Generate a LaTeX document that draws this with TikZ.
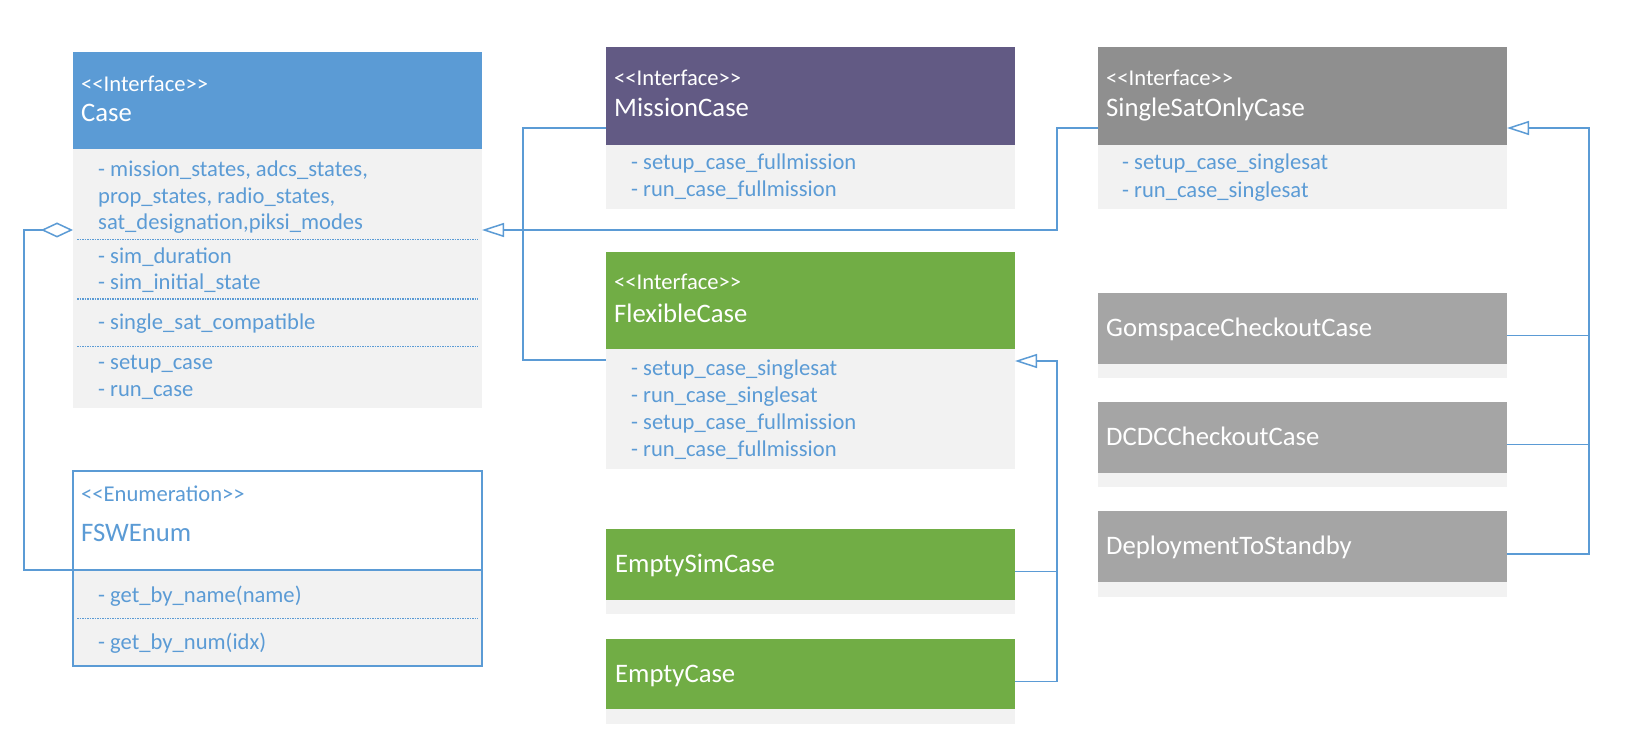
\documentclass[tikz,border=0pt]{standalone}
\usepackage{fontspec}
\setmainfont{Carlito}[Ligatures=TeXOff]
\usetikzlibrary{arrows.meta}
\definecolor{ublue}{HTML}{5B9BD5}
\definecolor{upurple}{HTML}{625A84}
\definecolor{ugreen}{HTML}{71AD45}
\definecolor{ugrayd}{HTML}{8F8F8F}
\definecolor{ugrayl}{HTML}{A5A5A5}
\definecolor{ubody}{HTML}{F2F2F2}
\tikzset{
  hd/.style={rectangle, inner sep=0pt, outer sep=0pt, anchor=north west, draw=none},
  ttl/.style={anchor=base west, inner sep=0pt, text=white, font=\fontsize{26.7}{32}\selectfont},
  ster/.style={anchor=base west, inner sep=0pt, text=white, font=\fontsize{22.6}{27}\selectfont},
  att/.style={anchor=base west, inner sep=0pt, text=ublue, font=\fontsize{22.6}{27}\selectfont},
  conn/.style={draw=ublue, line width=1.5pt},
  gen/.style={conn, -{Triangle[open, length=22pt, width=14pt]}},
  agg/.style={conn, -{Diamond[open, length=32pt, width=15pt]}},
  sepline/.style={draw=ublue, line width=1pt, dash pattern=on 1.5pt off 1pt},
}
\begin{document}
\begin{tikzpicture}[x=1pt,y=-1pt]
\useasboundingbox[fill=white] (0,0) rectangle (1634,746);

% ---------- Case ----------
\node[hd, fill=ublue, minimum width=409pt, minimum height=97pt] (caseH) at (73,52) {};
\node[hd, fill=ubody, minimum width=409pt, minimum height=259pt] (caseB) at (73,149) {};
\node[ster] (caseS) at (81,92) {<<Interface>>};
\node[ttl] (caseT) at (81,122) {Case};
\node[att] (caseA1) at (98,177) {- mission\_states, adcs\_states,};
\node[att] (caseA2) at (98,204) {prop\_states, radio\_states,};
\node[att] (caseA3) at (98,230) {sat\_designation,piksi\_modes};
\node[att] (caseA4) at (98,264) {- sim\_duration};
\node[att] (caseA5) at (98,290) {- sim\_initial\_state};
\node[att] (caseA6) at (98,329) {- single\_sat\_compatible};
\node[att] (caseA7) at (98,369) {- setup\_case};
\node[att] (caseA8) at (98,396) {- run\_case};
\draw[sepline] (77,240) -- (478,240);
\draw[sepline] (77,299) -- (478,299);
\draw[sepline] (77,346) -- (478,346);

% ---------- FSWEnum ----------
\node[hd, fill=white, minimum width=409pt, minimum height=99pt] (enumH) at (73,471) {};
\node[hd, fill=ubody, minimum width=409pt, minimum height=96pt] (enumB) at (73,570) {};
\draw[ublue, line width=1.3pt] (enumH.north west) rectangle (enumB.south east);
\draw[ublue, line width=1.3pt] (enumH.south west) -- (enumH.south east);
\node[att] (enumS) at (81,501) {<<Enumeration>>};
\node[att, font=\fontsize{26.7}{32}\selectfont] (enumT) at (81,541) {FSWEnum};
\node[att] (enumA1) at (98,602) {- get\_by\_name(name)};
\node[att] (enumA2) at (98,649) {- get\_by\_num(idx)};
\draw[sepline] (77,618) -- (478,618);

% ---------- MissionCase ----------
\node[hd, fill=upurple, minimum width=409pt, minimum height=98pt] (missionH) at (606,47) {};
\node[hd, fill=ubody, minimum width=409pt, minimum height=64pt] (missionB) at (606,145) {};
\node[ster] (missionS) at (614,86) {<<Interface>>};
\node[ttl] (missionT) at (614,117) {MissionCase};
\node[att] (missionA1) at (631,170) {- setup\_case\_fullmission};
\node[att] (missionA2) at (631,197) {- run\_case\_fullmission};

% ---------- FlexibleCase ----------
\node[hd, fill=ugreen, minimum width=409pt, minimum height=97pt] (flexH) at (606,252) {};
\node[hd, fill=ubody, minimum width=409pt, minimum height=120pt] (flexB) at (606,349) {};
\node[ster] (flexS) at (614,290) {<<Interface>>};
\node[ttl] (flexT) at (614,322) {FlexibleCase};
\node[att] (flexA1) at (631,375) {- setup\_case\_singlesat};
\node[att] (flexA2) at (631,402) {- run\_case\_singlesat};
\node[att] (flexA3) at (631,429) {- setup\_case\_fullmission};
\node[att] (flexA4) at (631,456) {- run\_case\_fullmission};

% ---------- EmptySimCase / EmptyCase ----------
\node[hd, fill=ubody, minimum width=409pt, minimum height=85pt] (emptysim) at (606,529) {};
\node[hd, fill=ugreen, minimum width=409pt, minimum height=71pt] (emptysimH) at (606,529) {};
\node[ttl] (emptysimT) at (615,572) {EmptySimCase};
\node[hd, fill=ubody, minimum width=409pt, minimum height=85pt] (empty) at (606,639) {};
\node[hd, fill=ugreen, minimum width=409pt, minimum height=70pt] (emptyH) at (606,639) {};
\node[ttl] (emptyT) at (615,682) {EmptyCase};

% ---------- SingleSatOnlyCase ----------
\node[hd, fill=ugrayd, minimum width=409pt, minimum height=98pt] (singleH) at (1098,47) {};
\node[hd, fill=ubody, minimum width=409pt, minimum height=64pt] (singleB) at (1098,145) {};
\node[ster] (singleS) at (1106,86) {<<Interface>>};
\node[ttl] (singleT) at (1106,117) {SingleSatOnlyCase};
\node[att] (singleA1) at (1122,170) {- setup\_case\_singlesat};
\node[att] (singleA2) at (1122,198) {- run\_case\_singlesat};

% ---------- Checkout cases ----------
\node[hd, fill=ubody, minimum width=409pt, minimum height=85pt] (gom) at (1098,293) {};
\node[hd, fill=ugrayl, minimum width=409pt, minimum height=71pt] (gomH) at (1098,293) {};
\node[ttl] (gomT) at (1106,336) {GomspaceCheckoutCase};
\node[hd, fill=ubody, minimum width=409pt, minimum height=85pt] (dcdc) at (1098,402) {};
\node[hd, fill=ugrayl, minimum width=409pt, minimum height=71pt] (dcdcH) at (1098,402) {};
\node[ttl] (dcdcT) at (1106,445) {DCDCCheckoutCase};
\node[hd, fill=ubody, minimum width=409pt, minimum height=86pt] (deploy) at (1098,511) {};
\node[hd, fill=ugrayl, minimum width=409pt, minimum height=71pt] (deployH) at (1098,511) {};
\node[ttl] (deployT) at (1106,554) {DeploymentToStandby};

% ---------- junction coordinates ----------
\coordinate (jR) at (1057,230);
\coordinate (jFL) at (523,360);
\coordinate (jF) at (1057,361);
\coordinate (jS) at (1589,128);
\coordinate (aggC) at (24,230);

% ---------- connectors ----------
\draw[gen] ([yshift=-32pt]singleH.west) -| (jR) -- (caseB.east |- jR);
\draw[conn] ([yshift=-32pt]missionH.west) -| (jFL) -- (flexB.west |- jFL);
\draw[gen] (empty.east) -| (jF) -- (flexB.east |- jF);
\draw[conn] (emptysim.east) -- (emptysim.east -| jF);
\draw[gen] (deploy.east) -| (jS) -- (singleH.east |- jS);
\draw[conn] (gom.east) -- (gom.east -| jS);
\draw[conn] (dcdc.east) -- (dcdc.east -| jS);
\draw[agg] (enumH.south west) -| (aggC) -- (caseB.west |- aggC);
\end{tikzpicture}
\end{document}
